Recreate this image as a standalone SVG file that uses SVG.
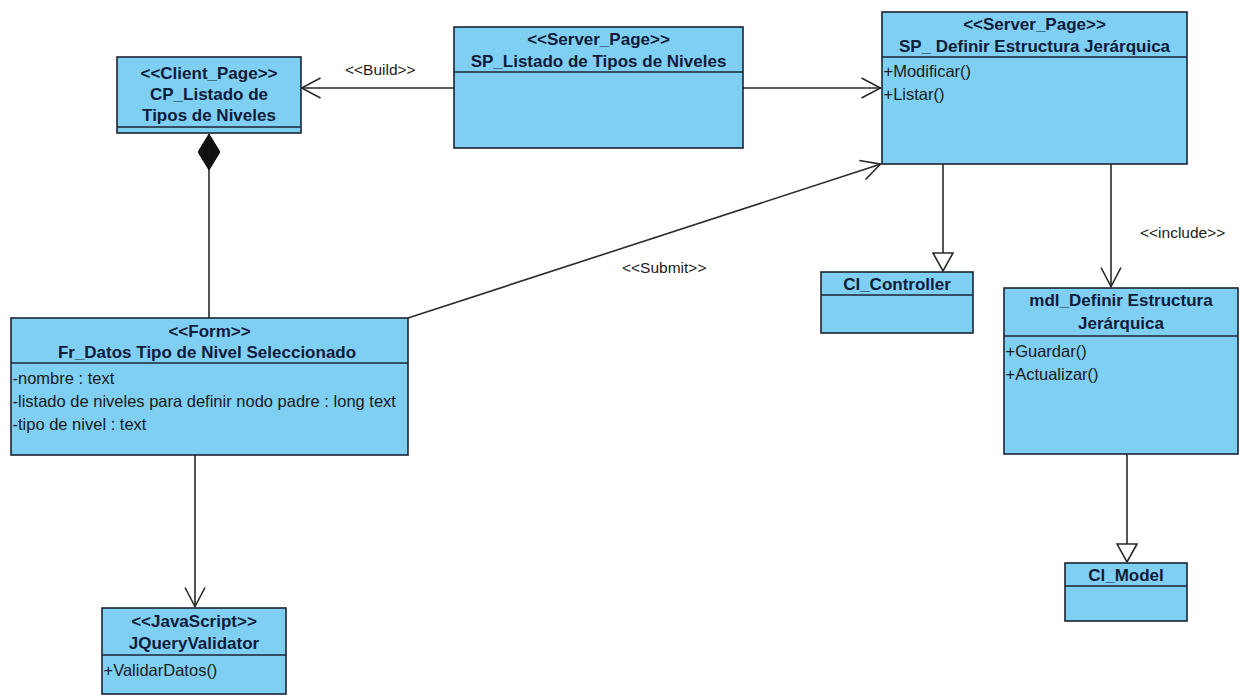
<svg xmlns="http://www.w3.org/2000/svg" width="1244" height="695" viewBox="0 0 1244 695">
<style>
.box{fill:#7fcff3;stroke:#1c2333;stroke-width:1.6}
.div{stroke:#1c2333;stroke-width:1.6}
.hd{font-family:"Liberation Sans",Arial,sans-serif;font-weight:bold;font-size:17px;fill:#111b3a;text-anchor:middle}
.tx{font-family:"Liberation Sans",Arial,sans-serif;font-size:16.5px;fill:#1a1a1a}
.lb{font-family:"Liberation Sans",Arial,sans-serif;font-size:15.5px;fill:#1a1a1a}
.ln{stroke:#2a2a2a;stroke-width:1.6;fill:none}
</style>
<defs>
<marker id="open" viewBox="0 0 22 24" markerWidth="22" markerHeight="24" refX="20.5" refY="12" orient="auto" markerUnits="userSpaceOnUse"><path d="M1,2 L20,12 L1,22" fill="none" stroke="#2a2a2a" stroke-width="1.6"/></marker>
<marker id="gen" viewBox="0 0 20 22" markerWidth="20" markerHeight="22" refX="19" refY="11" orient="auto" markerUnits="userSpaceOnUse"><path d="M1,1 L19,11 L1,21 Z" fill="#ffffff" stroke="#2a2a2a" stroke-width="1.6"/></marker>
<marker id="diam" viewBox="0 0 36 22" markerWidth="36" markerHeight="22" refX="0" refY="11" orient="auto" markerUnits="userSpaceOnUse"><path d="M0,11 L18,0 L36,11 L18,22 Z" fill="#111" stroke="#111" stroke-width="1"/></marker>
</defs>

<g id="connectors">
<line class="ln" x1="454" y1="88" x2="301" y2="88" marker-end="url(#open)"/>
<text class="lb" x="345" y="75">&lt;&lt;Build&gt;&gt;</text>
<line class="ln" x1="743" y1="88" x2="881" y2="88" marker-end="url(#open)"/>
<line class="ln" x1="209" y1="134" x2="209" y2="318" marker-start="url(#diam)"/>
<line class="ln" x1="408" y1="318" x2="881" y2="164" marker-end="url(#open)"/>
<text class="lb" x="622" y="273">&lt;&lt;Submit&gt;&gt;</text>
<line class="ln" x1="943" y1="164" x2="943" y2="271" marker-end="url(#gen)"/>
<line class="ln" x1="1111" y1="164" x2="1111" y2="287" marker-end="url(#open)"/>
<text class="lb" x="1140" y="238">&lt;&lt;include&gt;&gt;</text>
<line class="ln" x1="1127" y1="454" x2="1127" y2="562" marker-end="url(#gen)"/>
<line class="ln" x1="195" y1="455" x2="195" y2="607" marker-end="url(#open)"/>
</g>

<g id="cp_listado">
<rect class="box" x="117" y="57" width="184" height="76"/>
<line class="div" x1="117" y1="127" x2="301" y2="127"/>
<text class="hd" x="209" y="79">&lt;&lt;Client_Page&gt;&gt;</text>
<text class="hd" x="209" y="100">CP_Listado de</text>
<text class="hd" x="209" y="121">Tipos de Niveles</text>
</g>

<g id="sp_listado">
<rect class="box" x="454" y="27" width="289" height="121"/>
<line class="div" x1="454" y1="72" x2="743" y2="72"/>
<text class="hd" x="598.5" y="45">&lt;&lt;Server_Page&gt;&gt;</text>
<text class="hd" x="598.5" y="67">SP_Listado de Tipos de Niveles</text>
</g>

<g id="sp_definir">
<rect class="box" x="882" y="12" width="305" height="152"/>
<line class="div" x1="882" y1="57" x2="1187" y2="57"/>
<text class="hd" x="1034.5" y="30">&lt;&lt;Server_Page&gt;&gt;</text>
<text class="hd" x="1034.5" y="52">SP_ Definir Estructura Jerárquica</text>
<text class="tx" x="883.5" y="77">+Modificar()</text>
<text class="tx" x="883.5" y="100">+Listar()</text>
</g>

<g id="fr_datos">
<rect class="box" x="11" y="318" width="397" height="137"/>
<line class="div" x1="11" y1="363" x2="408" y2="363"/>
<text class="hd" x="209.5" y="337">&lt;&lt;Form&gt;&gt;</text>
<text class="hd" x="207" y="358">Fr_Datos Tipo de Nivel Seleccionado</text>
<text class="tx" x="12.5" y="384">-nombre : text</text>
<text class="tx" x="12.5" y="407">-listado de niveles para definir nodo padre : long text</text>
<text class="tx" x="12.5" y="430">-tipo de nivel : text</text>
</g>

<g id="cl_controller">
<rect class="box" x="821" y="272" width="152" height="61"/>
<line class="div" x1="821" y1="295" x2="973" y2="295"/>
<text class="hd" x="897" y="290">Cl_Controller</text>
</g>

<g id="mdl_definir">
<rect class="box" x="1004" y="288" width="234" height="166"/>
<line class="div" x1="1004" y1="336" x2="1238" y2="336"/>
<text class="hd" x="1121" y="306">mdl_Definir Estructura</text>
<text class="hd" x="1121" y="329">Jerárquica</text>
<text class="tx" x="1005.5" y="357">+Guardar()</text>
<text class="tx" x="1005.5" y="380">+Actualizar()</text>
</g>

<g id="cl_model">
<rect class="box" x="1065" y="563" width="122" height="58"/>
<line class="div" x1="1065" y1="586" x2="1187" y2="586"/>
<text class="hd" x="1126" y="581">Cl_Model</text>
</g>

<g id="jquery">
<rect class="box" x="102" y="608" width="184" height="86"/>
<line class="div" x1="102" y1="655" x2="286" y2="655"/>
<text class="hd" x="194" y="627">&lt;&lt;JavaScript&gt;&gt;</text>
<text class="hd" x="194" y="649">JQueryValidator</text>
<text class="tx" x="103.5" y="676">+ValidarDatos()</text>
</g>
</svg>
